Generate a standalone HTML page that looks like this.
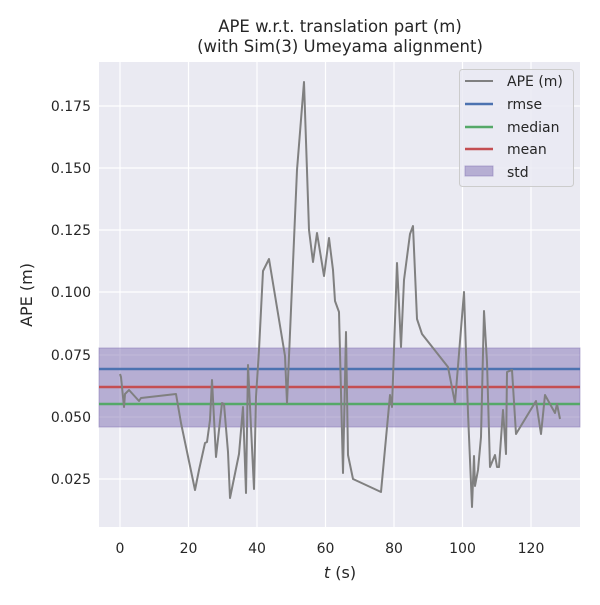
<!DOCTYPE html><html><head><style>body{margin:0;background:#fff}svg text{font-family:"DejaVu Sans","Liberation Sans",sans-serif;fill:#262626}</style></head><body>
<svg width="600" height="600" viewBox="0 0 600 600">
<rect x="99" y="62" width="481" height="465" fill="#eaeaf2"/>
<g stroke="#fff" stroke-width="1.2">
<line x1="120" y1="62" x2="120" y2="527"/><line x1="188.5" y1="62" x2="188.5" y2="527"/><line x1="257" y1="62" x2="257" y2="527"/><line x1="325.5" y1="62" x2="325.5" y2="527"/><line x1="394" y1="62" x2="394" y2="527"/><line x1="462.5" y1="62" x2="462.5" y2="527"/><line x1="531" y1="62" x2="531" y2="527"/>
<line x1="99" y1="106" x2="580" y2="106"/><line x1="99" y1="168" x2="580" y2="168"/><line x1="99" y1="230" x2="580" y2="230"/><line x1="99" y1="292" x2="580" y2="292"/><line x1="99" y1="355" x2="580" y2="355"/><line x1="99" y1="417" x2="580" y2="417"/><line x1="99" y1="479" x2="580" y2="479"/>
</g>
<rect x="99" y="348" width="481" height="79" fill="#8172b3" fill-opacity="0.5" stroke="#8172b3" stroke-opacity="0.5"/>
<line x1="99" y1="369" x2="580" y2="369" stroke="#4c72b0" stroke-width="2.5"/>
<line x1="99" y1="387" x2="580" y2="387" stroke="#c44e52" stroke-width="2.5"/>
<line x1="99" y1="404" x2="580" y2="404" stroke="#55a868" stroke-width="2.5"/>
<polyline fill="none" stroke="#808080" stroke-width="2" stroke-linejoin="round" points="120,374 121,377 124,407 125,394 129,390 139,401 141,398 176,394 181,423 195,490 199,470 205,443 207,442 210,420 212,380 216,457 222,403 224,404 228,452 230,498 239,454 243,407 246,493 248,365 254,489 256,397 259,350 263,271 269,259 285,356 287,403 297,170 304,82 309,230 313,262 317,233 324,276 329,238 333,270 335,301 339,312 343,473 346,332 348,455 353,479 381,492 390,395 392,407 397,263 401,347 404,280 410,234 413,226 417,319 422,334 448,367 455,403 464,292 468,413 472,507 474,456 475,486 478,470 481,437 484,311 487,362 490,467 495,455 497,467 499,467 503,410 506,454 507,372 512,370 516,434 536,401 541,434 545,395 555,413 557,404 560,419"/>
<g font-size="14" text-anchor="middle">
<text x="120" y="553">0</text><text x="188.5" y="553">20</text><text x="257" y="553">40</text><text x="325.5" y="553">60</text><text x="394" y="553">80</text><text x="462.5" y="553">100</text><text x="531" y="553">120</text>
</g>
<g font-size="14" text-anchor="end">
<text x="91" y="111">0.175</text><text x="91" y="173">0.150</text><text x="91" y="235">0.125</text><text x="91" y="297">0.100</text><text x="91" y="360">0.075</text><text x="91" y="422">0.050</text><text x="91" y="484">0.025</text>
</g>
<text x="340" y="578" font-size="16" text-anchor="middle"><tspan font-style="italic">t</tspan> (s)</text>
<text transform="translate(32,295) rotate(-90)" font-size="16" text-anchor="middle">APE (m)</text>
<text x="340" y="32" font-size="16.5" text-anchor="middle">APE w.r.t. translation part (m)</text>
<text x="340" y="52" font-size="16.5" text-anchor="middle">(with Sim(3) Umeyama alignment)</text>
<rect x="459.5" y="69.5" width="114" height="117" rx="3" fill="#eaeaf2" fill-opacity="0.8" stroke="#ccc"/>
<g stroke-width="2.5"><line x1="465" y1="81" x2="493" y2="81" stroke="#808080" stroke-width="2"/><line x1="465" y1="104" x2="493" y2="104" stroke="#4c72b0"/><line x1="465" y1="127" x2="493" y2="127" stroke="#55a868"/><line x1="465" y1="149" x2="493" y2="149" stroke="#c44e52"/></g>
<rect x="465" y="166" width="28" height="10" fill="#8172b3" fill-opacity="0.5" stroke="#8172b3" stroke-opacity="0.5"/>
<g font-size="14"><text x="507" y="86">APE (m)</text><text x="507" y="109">rmse</text><text x="507" y="132">median</text><text x="507" y="154">mean</text><text x="507" y="177">std</text></g>
</svg></body></html>
